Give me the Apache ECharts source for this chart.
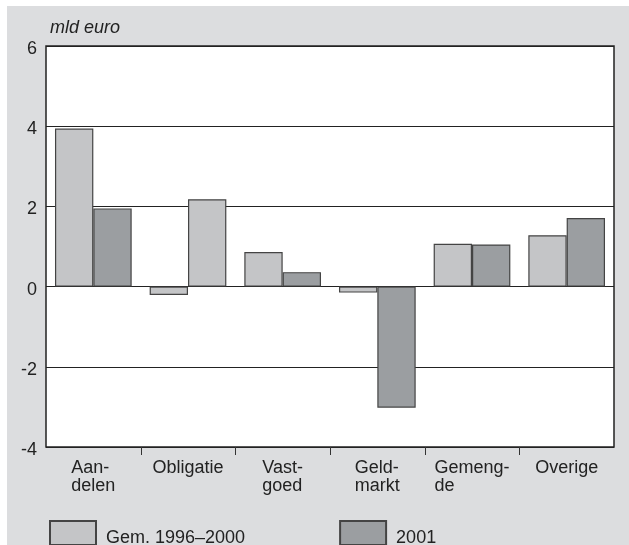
<!DOCTYPE html>
<html>
<head>
<meta charset="utf-8">
<script src="https://cdn.jsdelivr.net/npm/echarts@6/dist/echarts.min.js"></script>
<style>
    html, body { margin: 0; padding: 0; background: #fff; }
    #chart { position: absolute; left: 7px; top: 6px; width: 622px; height: 539px; background: #dcdddf; }
</style>
</head>
<body>
<div id="chart"></div>
<script>
// categorieën (x-as)
var categories = ['Aan-\ndelen', 'Obligatie', 'Vast-\ngoed', 'Geld-\nmarkt', 'Gemeng-\nde', 'Overige'];
// reeksen, mld euro
var gemiddeld = [3.94, -0.21, 0.86, -0.15, 1.07, 1.28];
var jaar2001 = [1.95, 2.18, 0.36, -3.02, 1.05, 1.71];
var seriesNames = ['Gem. 1996\u20132000', '2001'];
// y-as
var yMin = -4, yMax = 6, yStep = 2;

var font = "'Liberation Sans', Arial, sans-serif";
var lightGray = '#c4c5c7';
var darkGray = '#9b9ea1';
var chart = echarts.init(document.getElementById('chart'));

chart.setOption({
    animation: false,
    textStyle: { fontFamily: font },
    grid: {
        left: 39, right: 15, top: 40, bottom: 98,
        show: true,
        backgroundColor: '#fff',
        borderColor: '#222',
        borderWidth: 1.5
    },
    graphic: [{
        type: 'text', left: 43, top: 13,
        style: { text: 'mld euro', font: 'italic 18px ' + font, fill: '#222' }
    }],
    legend: {
        left: 42, top: 514,
        padding: 0,
        itemWidth: 46, itemHeight: 24,
        itemGap: 94,
        icon: 'rect',
        formatter: function (name) { return '{t|' + name + '}'; },
        textStyle: {
            fontSize: 18, color: '#222',
            rich: { t: { fontSize: 18, color: '#222', fontFamily: font, padding: [10, 0, 0, 5] } }
        },
        data: seriesNames
    },
    xAxis: {
        type: 'category',
        data: categories,
        axisLine: { show: false },
        axisTick: { show: false },
        axisLabel: {
            interval: 0,
            margin: 12,
            color: '#222',
            formatter: function (v) {
                // regels links uitlijnen binnen een gecentreerd blok
                return v.split('\n').map(function (s) { return '{a|' + s + '}'; }).join('\n');
            },
            rich: { a: { align: 'left', fontSize: 18, lineHeight: 18, color: '#222', fontFamily: font } }
        }
    },
    yAxis: {
        type: 'value',
        min: yMin, max: yMax, interval: yStep,
        axisLine: { show: false },
        axisTick: { show: false },
        axisLabel: {
            margin: 9,
            formatter: function (v) { return '{n|' + v + '}'; },
            rich: { n: { fontSize: 18, color: '#222', fontFamily: font, padding: [6, 0, 0, 0] } }
        },
        splitLine: { lineStyle: { color: '#222', width: 1 } }
    },
    series: [{
        name: seriesNames[0],
        type: 'bar',
        data: gemiddeld,
        barGap: 0,
        barCategoryGap: '19%',
        itemStyle: { color: lightGray, borderColor: '#444', borderWidth: 1.2 }
    }, {
        name: seriesNames[1],
        type: 'bar',
        // in het origineel is de Obligatie-staaf van 2001 licht getekend
        data: jaar2001.map(function (v, i) {
            return i === 1 ? { value: v, itemStyle: { color: lightGray } } : v;
        }),
        barGap: 0,
        barCategoryGap: '19%',
        itemStyle: { color: darkGray, borderColor: '#444', borderWidth: 1.2 }
    }, {
        // streepjes tussen de categorieën onder de as
        type: 'custom',
        silent: true,
        data: categories.map(function (c, i) { return [i, yMin]; }),
        renderItem: function (params, api) {
            if (params.dataIndex === 0) return;
            var p = api.coord([api.value(0), api.value(1)]);
            var w = api.size([1, 0])[0];
            var x = Math.round(p[0] - w / 2) + 0.5;
            return {
                type: 'line',
                shape: { x1: x, y1: p[1], x2: x, y2: p[1] + 8 },
                style: { stroke: '#333', lineWidth: 1 }
            };
        }
    }]
});
</script>
</body>
</html>
